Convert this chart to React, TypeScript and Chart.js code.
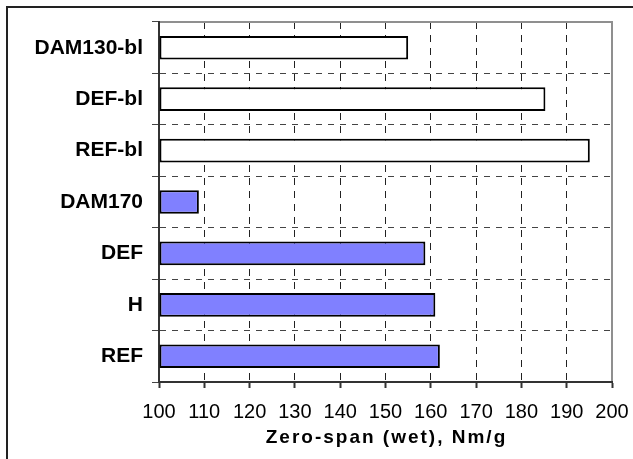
import React, { useEffect, useRef } from "react";
import { Chart, registerables } from "chart.js";

Chart.register(...registerables);

const categories = ["DAM130-bl", "DEF-bl", "REF-bl", "DAM170", "DEF", "H", "REF"];
const zeroSpanWet = [155, 185.3, 195.1, 108.8, 158.8, 161, 162];
const barFills = ["#FFFFFF", "#FFFFFF", "#FFFFFF", "#8080FF", "#8080FF", "#8080FF", "#8080FF"];
const xTicks = { min: 100, max: 200, step: 10 };
const axisTitle = "Zero-span (wet), Nm/g";

const W = 633;
const H = 459;

const framePlugin = {
  id: "framePlugin",
  afterDraw(chart: any) {
    const { ctx, chartArea } = chart;
    ctx.save();
    ctx.fillStyle = "#8f8f8f";
    ctx.fillRect(chartArea.left + 1, chartArea.top - 1, chartArea.right - chartArea.left, 2);
    ctx.fillRect(chartArea.right - 1, chartArea.top - 1, 2, chartArea.bottom - chartArea.top);

    ctx.fillStyle = "#222";
    ctx.fillRect(6, 6, 2, H);
    ctx.fillRect(6, 6, W, 2);

    ctx.fillStyle = "#000";
    ctx.font = 'bold 19px "Liberation Sans", Arial, sans-serif';
    (ctx as any).letterSpacing = "2px";
    ctx.textAlign = "center";
    ctx.textBaseline = "middle";
    ctx.fillText(axisTitle, (chartArea.left + chartArea.right) / 2 + 1, 438);
    (ctx as any).letterSpacing = "0px";
    ctx.restore();
  },
};

export default function App() {
  const ref = useRef<HTMLCanvasElement | null>(null);
  useEffect(() => {
    if (!ref.current) return;
    const chart = new Chart(ref.current, {
      type: "bar",
      data: {
        labels: categories,
        datasets: [
          {
            data: zeroSpanWet,
            base: xTicks.min,
            backgroundColor: barFills,
            borderColor: "#000",
            borderWidth: 2,
            borderSkipped: false,
            barPercentage: 0.46,
            categoryPercentage: 1,
          } as any,
        ],
      },
      options: {
        indexAxis: "y",
        responsive: false,
        animation: false,
        layout: { padding: { left: 0, top: 22, right: 21, bottom: 0 } },
        plugins: { legend: { display: false }, tooltip: { enabled: false } },
        scales: {
          x: {
            min: xTicks.min,
            max: xTicks.max,
            afterFit: (s: any) => {
              s.height = 77;
              s.paddingLeft = 0;
              s.paddingRight = 0;
            },
            ticks: {
              stepSize: xTicks.step,
              color: "#000",
              padding: 12,
              font: { family: '"Liberation Sans", Arial, sans-serif', size: 20 },
            },
            grid: {
              color: (c: any) => (c.index === 0 || c.index === 10 ? "rgba(0,0,0,0)" : "#222"),
              lineWidth: 1,
              tickLength: 6,
              tickColor: "#333",
              tickWidth: 2,
            },
            border: { display: true, color: "#333", width: 2, dash: [7, 6] },
          },
          y: {
            afterFit: (s: any) => {
              s.width = 159;
              s.paddingTop = 0;
              s.paddingBottom = 0;
            },
            ticks: {
              color: "#000",
              padding: 9,
              font: { family: '"Liberation Sans", Arial, sans-serif', size: 21, weight: "bold" },
            },
            grid: {
              offset: true,
              color: (c: any) => (c.index === 0 || c.index === 7 ? "rgba(0,0,0,0)" : "#444"),
              lineWidth: 1,
              tickLength: 7,
              tickColor: "#444",
              tickWidth: 1,
            },
            border: { display: true, color: "#333", width: 2, dash: [6, 6] },
          },
        },
      },
      plugins: [framePlugin],
    } as any);
    return () => chart.destroy();
  }, []);
  return (
    <div style={{ position: "absolute", left: 0, top: 0, width: W, height: H, background: "#fff" }}>
      <canvas ref={ref} width={W} height={H} />
    </div>
  );
}
